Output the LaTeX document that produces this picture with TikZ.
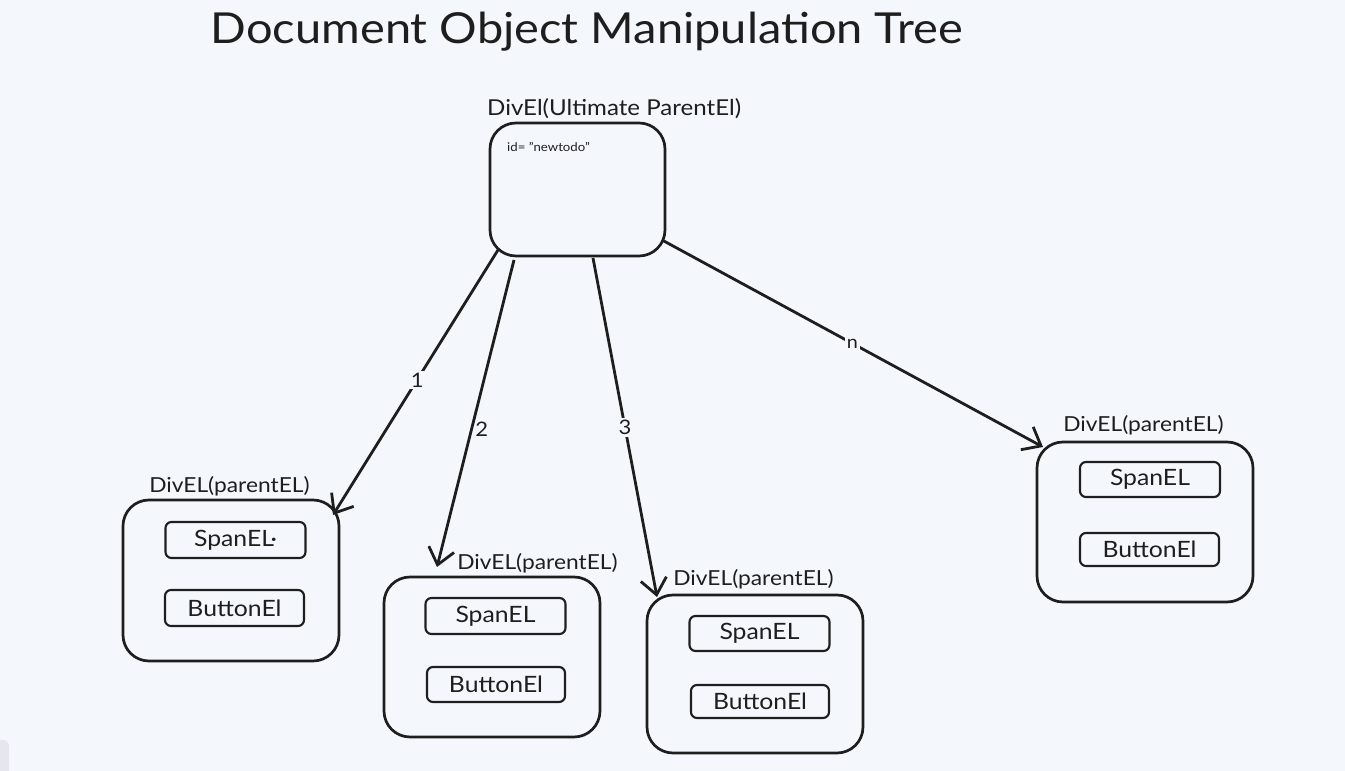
\documentclass[tikz,border=0pt]{standalone}
\usepackage{fontspec}
\setmainfont{Lato}[FakeStretch=1.1]
\usetikzlibrary{arrows.meta,calc}
\definecolor{bg}{HTML}{F4F8FD}
\definecolor{ink}{HTML}{1E1E1E}
\definecolor{tab}{HTML}{E6E6EF}
\tikzset{
  outerbox/.style={draw=ink,line width=2.7pt,rounded corners=26pt,inner sep=0pt,outer sep=0pt},
  innerbox/.style={draw=ink,line width=2.1pt,rounded corners=6pt,inner sep=0pt,outer sep=0pt,minimum width=140pt,minimum height=36pt,font=\fontsize{22.5}{26}\selectfont,text=ink},
  boxlabel/.style={font=\fontsize{20.7}{24}\selectfont,text=ink,inner sep=1pt},
  edgelabel/.style={font=\fontsize{20}{24}\selectfont,text=ink,fill=bg,inner sep=2pt},
  arr/.style={draw=ink,line width=2.8pt,-{Straight Barb[length=16pt,width=26pt]}},
}
\begin{document}
\begin{tikzpicture}[x=1pt,y=1pt]
\fill[bg] (0,0) rectangle (1345,771);
\useasboundingbox (0,0) rectangle (1345,771);
\fill[tab,rounded corners=6pt] (-10,-10) rectangle (9,31);

\node[font=\fontsize{42.7}{50}\selectfont,text=ink] (title) at (587,739) {Document Object Manipulation Tree};

% root
\node[outerbox,minimum width=175pt,minimum height=133pt] (root) at (577.5,581.5) {};
\node[boxlabel,anchor=west,font=\fontsize{21.9}{26}\selectfont] (rootlabel) at (486,662) {DivEl(Ultimate ParentEl)};
\node[font=\fontsize{12}{14}\selectfont,text=ink,anchor=west,inner sep=0pt] (rootid) at (507,624) {id= "newtodo"};

% child 1
\node[outerbox,minimum width=216pt,minimum height=161pt] (c1) at (231,190.5) {};
\node[boxlabel] (c1label) at (229.5,285) {DivEL(parentEL)};
\node[innerbox] (s1) at (235.5,231) {SpanEL·};
\node[innerbox,minimum width=139pt] (b1) at (234.5,163) {ButtonEl};

% child 2
\node[outerbox,minimum width=216pt,minimum height=160pt] (c2) at (492,114) {};
\node[boxlabel] (c2label) at (537.5,208) {DivEL(parentEL)};
\node[innerbox] (s2) at (495.5,155) {SpanEL};
\node[innerbox,minimum width=138pt,minimum height=35pt] (b2) at (496,86.5) {ButtonEl};

% child 3
\node[outerbox,minimum width=216pt,minimum height=158pt] (c3) at (755,97) {};
\node[boxlabel] (c3label) at (753.5,192) {DivEL(parentEL)};
\node[innerbox,minimum height=35pt] (s3) at (759.5,137.5) {SpanEL};
\node[innerbox,minimum width=138pt,minimum height=33pt] (b3) at (760,69.5) {ButtonEl};

% child n
\node[outerbox,minimum width=216pt,minimum height=160pt] (c4) at (1145,249) {};
\node[boxlabel] (c4label) at (1143.5,346) {DivEL(parentEL)};
\node[innerbox,minimum height=35pt] (s4) at (1150,291.5) {SpanEL};
\node[innerbox,minimum width=139pt,minimum height=33pt] (b4) at (1149.5,221.5) {ButtonEl};

% connectors
\draw[arr] ([shift={(8pt,6pt)}]root.south west) -- node[edgelabel,pos=0.49] {1} ([shift={(-6pt,-15pt)}]c1.north east);
\draw[arr] ([shift={(-63.5pt,-4pt)}]root.south) -- node[boxlabel,font=\fontsize{20}{24}\selectfont,pos=0.55,xshift=10pt] {2} ([shift={(53pt,10pt)}]c2.north west);
\draw[arr] ([shift={(15.5pt,-2pt)}]root.south) -- node[edgelabel,pos=0.5] {3} ([shift={(10pt,-2pt)}]c3.north west);
\draw[arr] ([shift={(-3pt,16pt)}]root.south east) -- node[edgelabel,pos=0.5,font=\fontsize{18}{21}\selectfont] {n} ([shift={(6pt,-5pt)}]c4.north west);
\end{tikzpicture}
\end{document}
